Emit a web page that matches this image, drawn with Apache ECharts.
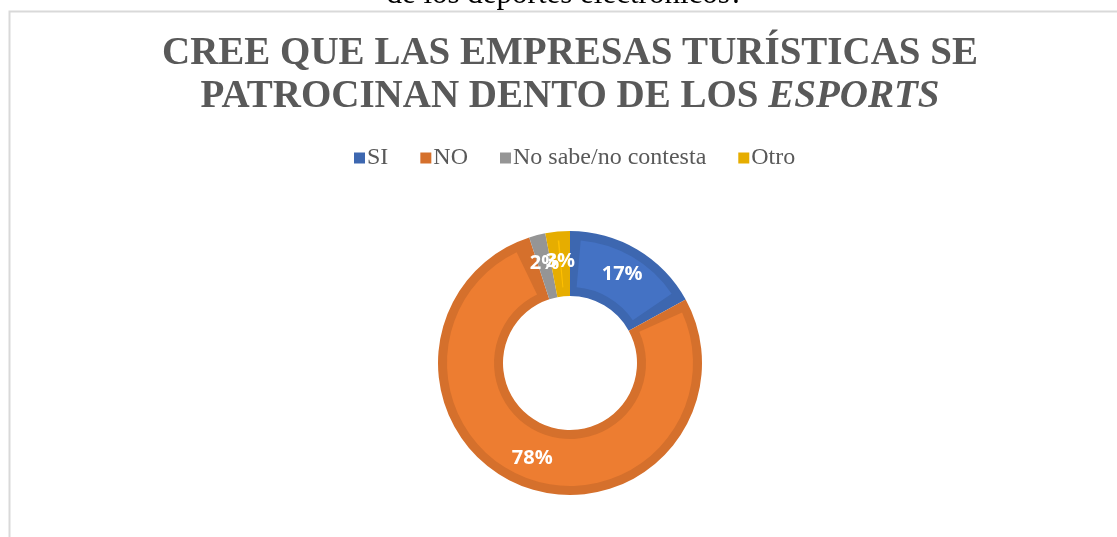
<!DOCTYPE html>
<html>
<head>
<meta charset="utf-8">
<script src="https://cdn.jsdelivr.net/npm/echarts@6/dist/echarts.min.js"></script>
<style>
  html, body { margin: 0; padding: 0; background: #fff; overflow: hidden; }
  #chart { width: 1117px; height: 537px; }
</style>
</head>
<body>
<div id="chart"></div>
<script>
// Survey answers (percent of respondents)
const categories = ['SI', 'NO', 'No sabe/no contesta', 'Otro'];
const values = [17, 78, 2, 3];
const fillColors = ['#4472C4', '#ED7D31', '#A5A5A5', '#FFC000'];
const edgeColors = ['#3D67B0', '#D5702C', '#959595', '#E6AD00'];
const titleLines = ['CREE QUE LAS EMPRESAS TURÍSTICAS SE', 'PATROCINAN DENTO DE LOS ', 'ESPORTS'];
const precedingText = 'de los deportes electrónicos?';

const chart = echarts.init(document.getElementById('chart'), null, { renderer: 'canvas' });

const cx = 570, cy = 363;
const serif = '"Liberation Serif", "Times New Roman", serif';

const makeData = (colors) => categories.map((name, i) => ({
  name, value: values[i], itemStyle: { color: colors[i] }
}));

const pieBase = {
  type: 'pie',
  center: [cx, cy],
  startAngle: 90, clockwise: true,
  avoidLabelOverlap: false,
  silent: true,
  emphasis: { disabled: true },
  labelLine: { show: false }
};

const option = {
  backgroundColor: '#ffffff',
  animation: false,
  graphic: [
    {
      type: 'rect', z: 0, silent: true,
      shape: { x: 9.5, y: 11.5, width: 1200, height: 700 },
      style: { fill: '#ffffff', stroke: '#D9D9D9', lineWidth: 2 }
    },
    {
      type: 'text', z: 1, silent: true, x: 565, y: -5,
      style: { text: precedingText, font: '31px ' + serif, fill: '#000000', align: 'center', verticalAlign: 'middle' }
    },
    {
      type: 'text', z: 5, silent: true, x: cx, y: 54,
      style: {
        text: titleLines[0], fontFamily: serif, fontWeight: 'bold', fontSize: 39,
        fill: '#595959', align: 'center', verticalAlign: 'middle'
      }
    },
    {
      type: 'text', z: 5, silent: true, x: cx, y: 97,
      style: {
        text: '{a|' + titleLines[1] + '}{i|' + titleLines[2] + '}',
        align: 'center', verticalAlign: 'middle',
        rich: {
          a: { fontFamily: serif, fontWeight: 'bold', fontSize: 39, fill: '#595959', align: 'center' },
          i: { fontFamily: serif, fontWeight: 'bold', fontStyle: 'italic', fontSize: 39, fill: '#595959', align: 'center' }
        }
      }
    }
  ],
  legend: {
    left: 354, top: 146, padding: 0,
    itemWidth: 11, itemHeight: 11, itemGap: 32,
    icon: 'rect',
    data: categories,
    selectedMode: false,
    textStyle: { fontFamily: serif, fontSize: 24, color: '#595959', padding: [0, 0, 0, -3] }
  },
  series: [
    Object.assign({}, pieBase, {
      // darker outline band of each slice
      name: 'band', radius: [67, 132], z: 1,
      label: { show: false },
      data: makeData(edgeColors)
    }),
    Object.assign({}, pieBase, {
      // lighter fill, inset from the band
      name: 'fill', radius: [76, 123], z: 2,
      padAngle: 10,
      label: { show: false },
      data: makeData(fillColors)
    }),
    Object.assign({}, pieBase, {
      // percentage labels on top
      name: 'labels', radius: [67, 132], z: 3,
      itemStyle: { color: 'rgba(0,0,0,0)' },
      labelLayout: { hideOverlap: false },
      label: {
        show: true, position: 'inside', formatter: '{c}%',
        color: '#ffffff', fontFamily: '"Open Sans", sans-serif', fontWeight: 'bold', fontSize: 20
      },
      data: categories.map((name, i) => ({ name, value: values[i], itemStyle: { color: 'rgba(0,0,0,0)' } }))
    })
  ]
};
chart.setOption(option);
</script>
</body>
</html>
